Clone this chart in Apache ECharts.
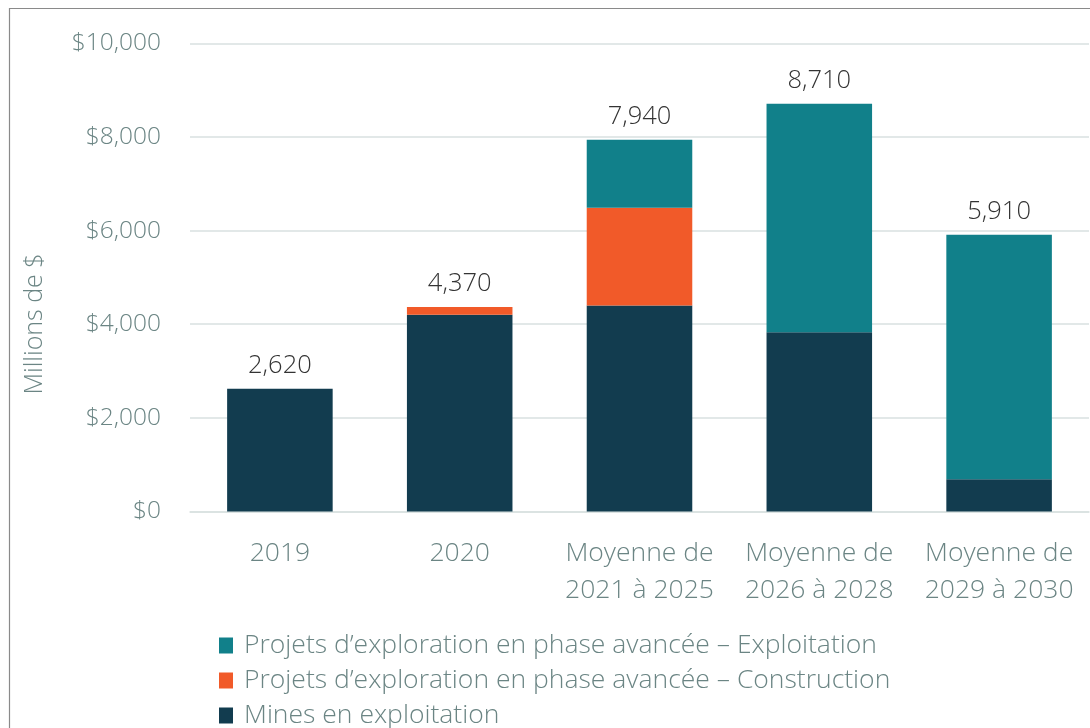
<!DOCTYPE html>
<html>
<head>
<meta charset="utf-8">
<script src="https://cdn.jsdelivr.net/npm/echarts@6/dist/echarts.min.js"></script>
<style>
html,body{margin:0;padding:0;background:#fff;}
#chart{width:1090px;height:728px;}
</style>
</head>
<body>
<div id="chart"></div>
<script>
const categories = ['2019', '2020', 'Moyenne de\n2021 à 2025', 'Moyenne de\n2026 à 2028', 'Moyenne de\n2029 à 2030'];
const mines = [2620, 4200, 4400, 3830, 690];
const construction = [0, 170, 2090, 0, 0];
const exploitation = [0, 0, 1450, 4880, 5220];
const totals = [2620, 4370, 7940, 8710, 5910];
const yTicks = [0, 2000, 4000, 6000, 8000, 10000];
const seriesNames = [
  'Mines en exploitation',
  'Projets d’exploration en phase avancée – Construction',
  'Projets d’exploration en phase avancée – Exploitation'
];

const FONT = '"Open Sans", "Noto Sans", sans-serif';
const GREY = '#6b8584';
const chart = echarts.init(document.getElementById('chart'), null, {renderer: 'canvas'});

chart.setOption({
  animation: false,
  backgroundColor: '#ffffff',
  textStyle: {fontFamily: FONT},
  graphic: [
    {type: 'rect', shape: {x: 9.5, y: 8.5, width: 1200, height: 1000}, style: {fill: 'none', stroke: '#8a8a8a', lineWidth: 1.2}, silent: true, z: -1},
    {type: 'text', x: 35, y: 324, rotation: Math.PI / 2,
     style: {text: 'Millions de $', fontFamily: FONT, fontSize: 25, fontWeight: 300, fill: GREY, align: 'center', verticalAlign: 'middle'}}
  ],
  grid: {left: 190, right: 1, top: 43.3, bottom: 728 - 511.5, containLabel: false},
  legend: {
    orient: 'vertical', left: 219, top: 632, padding: 0, height: 140,
    itemWidth: 14, itemHeight: 16, itemGap: 8, icon: 'rect',
    data: [seriesNames[2], seriesNames[1], seriesNames[0]],
    textStyle: {fontFamily: FONT, fontSize: 26.5, fontWeight: 300, color: GREY, lineHeight: 26, padding: [0, 0, 0, 6]}
  },
  xAxis: {
    type: 'category', data: categories,
    axisLine: {lineStyle: {color: '#d9e1e0', width: 1.5}},
    axisTick: {show: false},
    axisLabel: {fontFamily: FONT, fontSize: 26.5, fontWeight: 300, color: GREY, lineHeight: 37, margin: 23, interval: 0}
  },
  yAxis: {
    type: 'value', min: yTicks[0], max: yTicks[yTicks.length - 1], interval: 2000,
    axisLine: {show: false}, axisTick: {show: false},
    splitLine: {lineStyle: {color: '#d9e1e0', width: 1.5}},
    axisLabel: {fontFamily: FONT, fontSize: 24.5, fontWeight: 300, color: GREY, margin: 29,
      formatter: v => '$' + v.toLocaleString('en-US')}
  },
  series: [
    {name: seriesNames[0], type: 'bar', stack: 'a', data: mines, barWidth: '58.7%', itemStyle: {color: '#123c4f'}},
    {name: seriesNames[1], type: 'bar', stack: 'a', data: construction, itemStyle: {color: '#f15a29'}},
    {name: seriesNames[2], type: 'bar', stack: 'a', data: exploitation, itemStyle: {color: '#11808a'}},
    {name: 'Total', type: 'bar', stack: 'a', data: totals.map(() => 0), itemStyle: {color: 'transparent'},
     label: {show: true, position: 'top', distance: 10, fontFamily: FONT, fontSize: 25.5, fontWeight: 300, color: '#333333',
       formatter: p => totals[p.dataIndex].toLocaleString('en-US')}}
  ]
});
</script>
</body>
</html>
